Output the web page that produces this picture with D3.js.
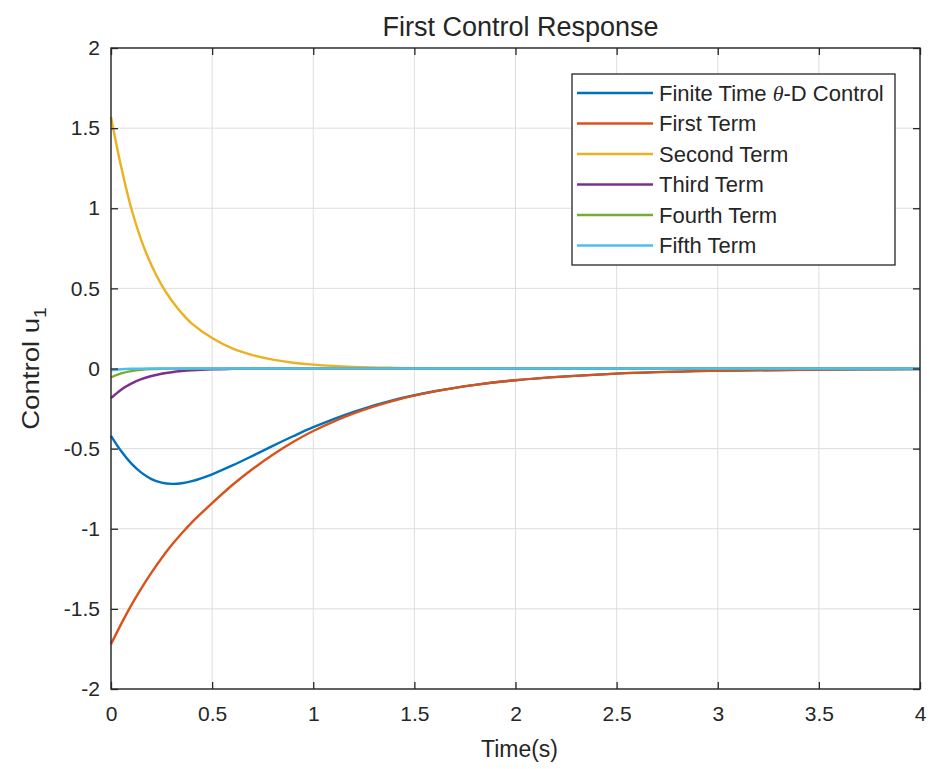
<!DOCTYPE html>
<html>
<head>
<meta charset="utf-8">
<script src="https://cdnjs.cloudflare.com/ajax/libs/d3/7.8.5/d3.min.js"></script>
<style>
  body { margin: 0; background: #fff; }
  text { font-family: "Liberation Sans", Arial, sans-serif; fill: #262626; }
</style>
</head>
<body>
<div id="chart"></div>
<script>
// time samples (s) and the five terms + total control
var timeS = [0, 0.05, 0.1, 0.15, 0.2, 0.25, 0.3, 0.35, 0.4, 0.5, 0.6, 0.7, 0.8, 0.9, 1.0, 1.2, 1.4, 1.6, 1.8, 2.0, 2.5, 3.0, 3.5, 4.0];
var controlTotal = [-0.42, -0.515, -0.592, -0.65, -0.69, -0.712, -0.72, -0.716, -0.703, -0.66, -0.605, -0.545, -0.483, -0.423, -0.366, -0.27, -0.196, -0.142, -0.102, -0.073, -0.032, -0.014, -0.006, -0.003];
var firstTerm = [-1.72, -1.595, -1.478, -1.372, -1.274, -1.184, -1.102, -1.028, -0.96, -0.84, -0.727, -0.627, -0.538, -0.459, -0.39, -0.28, -0.2, -0.143, -0.102, -0.073, -0.032, -0.014, -0.006, -0.003];
var secondTerm = [1.57, 1.26, 1.00, 0.80, 0.645, 0.522, 0.424, 0.345, 0.28, 0.19, 0.125, 0.083, 0.055, 0.036, 0.024, 0.01, 0.004, 0.0015, 0.0005, 0, 0, 0, 0, 0];
var thirdTerm = [-0.185, -0.132, -0.094, -0.067, -0.047, -0.033, -0.023, -0.016, -0.011, -0.005, -0.0025, -0.001, 0, 0, 0, 0, 0, 0, 0, 0, 0, 0, 0, 0];
var fourthTerm = [-0.055, -0.03, -0.016, -0.008, -0.004, -0.002, -0.001, 0, 0, 0, 0, 0, 0, 0, 0, 0, 0, 0, 0, 0, 0, 0, 0, 0];
var fifthTerm = [-0.012, -0.005, -0.002, -0.001, 0, 0, 0, 0, 0, 0, 0, 0, 0, 0, 0, 0, 0, 0, 0, 0, 0, 0, 0, 0];

var seriesNames = ["Finite Time \u03b8-D Control", "First Term", "Second Term", "Third Term", "Fourth Term", "Fifth Term"];
var seriesColors = ["#0072BD", "#D95319", "#EDB120", "#7E2F8E", "#77AC30", "#4DBEEE"];
var xTicks = [0, 0.5, 1, 1.5, 2, 2.5, 3, 3.5, 4];
var yTicks = [-2, -1.5, -1, -0.5, 0, 0.5, 1, 1.5, 2];

var svgWidth = 930;
var svgHeight = 769;
var margin = { top: 48, right: 10, bottom: 80, left: 111 };
var width = svgWidth - margin.left - margin.right;
var height = svgHeight - margin.top - margin.bottom;

var svg = d3.select("#chart")
  .append("svg")
  .attr("width", svgWidth)
  .attr("height", svgHeight);

var chartGroup = svg.append("g")
  .attr("transform", `translate(${margin.left}, ${margin.top})`);

var xScale = d3.scaleLinear().domain([0, 4]).range([0, width]);
var yScale = d3.scaleLinear().domain([-2, 2]).range([height, 0]);

// grid
chartGroup.append("g").selectAll("line")
  .data(xTicks).enter().append("line")
  .attr("x1", d => xScale(d)).attr("x2", d => xScale(d))
  .attr("y1", 0).attr("y2", height)
  .attr("stroke", "#dedede").attr("stroke-width", 1);
chartGroup.append("g").selectAll("line")
  .data(yTicks).enter().append("line")
  .attr("x1", 0).attr("x2", width)
  .attr("y1", d => yScale(d)).attr("y2", d => yScale(d))
  .attr("stroke", "#dedede").attr("stroke-width", 1);

// series
var series = [controlTotal, firstTerm, secondTerm, thirdTerm, fourthTerm, fifthTerm];
var line = d3.line()
  .x((d, i) => xScale(timeS[i]))
  .y(d => yScale(d))
  .curve(d3.curveCatmullRom.alpha(0.5));

series.forEach(function(vals, k) {
  chartGroup.append("path")
    .datum(vals)
    .attr("fill", "none")
    .attr("stroke", seriesColors[k])
    .attr("stroke-width", 2.4)
    .attr("d", line);
});

// axes (ticks pointing inwards, on all four sides)
var xAxis = d3.axisBottom(xScale).tickValues(xTicks).tickSizeInner(-7).tickSizeOuter(0).tickPadding(17).tickFormat(d => String(d));
var yAxis = d3.axisLeft(yScale).tickValues(yTicks).tickSizeInner(-7).tickSizeOuter(0).tickPadding(11).tickFormat(d => String(d));

var gx = chartGroup.append("g")
  .attr("transform", `translate(0,${height})`)
  .call(xAxis);
var gy = chartGroup.append("g").call(yAxis);
chartGroup.append("g").call(d3.axisTop(xScale).tickValues(xTicks).tickSizeInner(-7).tickSizeOuter(0).tickFormat(""));
chartGroup.append("g").attr("transform", `translate(${width},0)`)
  .call(d3.axisRight(yScale).tickValues(yTicks).tickSizeInner(-7).tickSizeOuter(0).tickFormat(""));

chartGroup.selectAll(".domain").remove();
chartGroup.selectAll(".tick line").attr("stroke", "#262626").attr("stroke-width", 1.3);
gx.selectAll("text").attr("font-size", 21).attr("fill", "#262626")
  .attr("dy", "0.71em");
gy.selectAll("text").attr("font-size", 21).attr("fill", "#262626");

chartGroup.append("rect")
  .attr("width", width).attr("height", height)
  .attr("fill", "none").attr("stroke", "#262626").attr("stroke-width", 1.4);

// title and axis labels
svg.append("text")
  .attr("x", margin.left + width / 2 + 5).attr("y", 36)
  .attr("text-anchor", "middle")
  .attr("font-size", 27)
  .text("First Control Response");

svg.append("text")
  .attr("x", margin.left + width / 2 + 4).attr("y", 757)
  .attr("text-anchor", "middle")
  .attr("font-size", 23)
  .text("Time(s)");

var yLab = svg.append("text")
  .attr("transform", `translate(39, ${margin.top + height / 2}) rotate(-90) scale(1.2,1)`)
  .attr("text-anchor", "middle")
  .attr("font-size", 23);
yLab.append("tspan").text("Control  u");
yLab.append("tspan").attr("font-size", 16).attr("dy", 7).text("1");

// legend
var legend = svg.append("g").attr("transform", "translate(572, 74)");
legend.append("rect")
  .attr("width", 323).attr("height", 191)
  .attr("fill", "#fff").attr("stroke", "#262626").attr("stroke-width", 1.3);

var rows = legend.selectAll("g.row")
  .data(seriesNames).enter().append("g")
  .attr("transform", (d, i) => `translate(0, ${19 + i * 30.5})`);
rows.append("line")
  .attr("x1", 5).attr("x2", 81)
  .attr("stroke", (d, i) => seriesColors[i])
  .attr("stroke-width", 2.4);
rows.append("text")
  .attr("x", 87).attr("dy", "0.36em")
  .attr("font-size", 22)
  .each(function(d, i) {
    var t = d3.select(this);
    if (i === 0) {
      t.append("tspan").text("Finite Time ");
      t.append("tspan").attr("font-style", "italic").attr("font-family", "Liberation Serif, serif").text("\u03b8");
      t.append("tspan").text("-D Control");
    } else {
      t.text(d);
    }
  });
</script>
</body>
</html>
